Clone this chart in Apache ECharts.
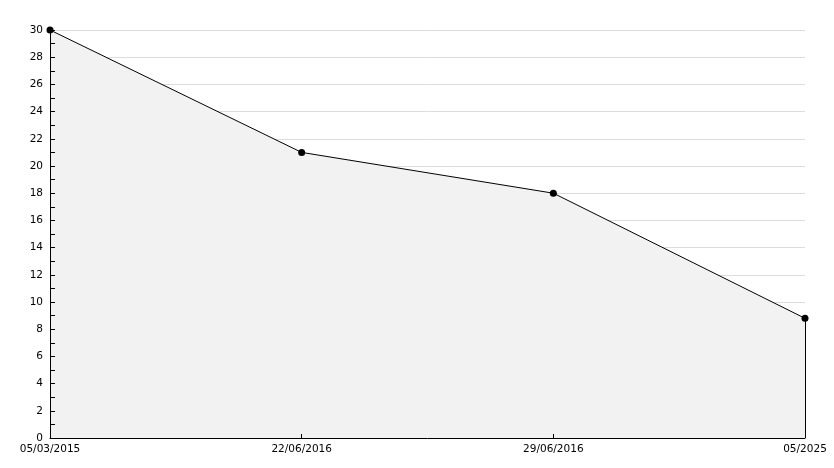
<!DOCTYPE html>
<html><head><meta charset="utf-8">
<script src="https://cdn.jsdelivr.net/npm/echarts@6/dist/echarts.min.js"></script>
<style>html,body{margin:0;padding:0;background:#fff}#c{width:834px;height:468px}</style>
</head><body><div id="c"></div>
<script>
const categories = ['05/03/2015', '22/06/2016', '29/06/2016', '05/2025'];
const values = [30, 21, 18, 8.8];
const yMin = 0, yMax = 30, yStep = 2;

const chart = echarts.init(document.getElementById('c'), null, {renderer: 'canvas'});
const lastCat = categories[categories.length - 1];
const lastVal = values[values.length - 1];
chart.setOption({
  animation: false,
  grid: {left: 50, right: 29, top: 30, bottom: 30, containLabel: false},
  xAxis: {
    type: 'category', data: categories, boundaryGap: false, z: 5,
    axisLine: {lineStyle: {color: '#000', width: 1}},
    axisTick: {inside: true, length: 4, lineStyle: {color: '#000'}},
    axisLabel: {color: '#000', fontFamily: 'DejaVu Sans', fontSize: 10.5, margin: 6, interval: 0},
    splitLine: {show: false}
  },
  yAxis: [{
    type: 'value', min: yMin, max: yMax, interval: yStep, z: 0,
    position: 'left', offset: 0,
    axisLine: {show: false}, axisTick: {show: false}, axisLabel: {show: false},
    splitLine: {show: true, lineStyle: {color: '#dddddd', width: 1}}
  }, {
    type: 'value', min: yMin, max: yMax, interval: yStep, z: 5,
    position: 'left', offset: 0,
    axisLine: {show: true, onZero: false, lineStyle: {color: '#000', width: 1}},
    axisTick: {show: true, inside: true, length: 5, lineStyle: {color: '#000'}},
    minorTick: {show: true, splitNumber: 2, length: 5, lineStyle: {color: '#000'}},
    axisLabel: {color: '#000', fontFamily: 'DejaVu Sans', fontSize: 10.5, margin: 7},
    splitLine: {show: false}
  }],
  series: [{
    type: 'line', data: values, z: 3, yAxisIndex: 0,
    symbol: 'circle', symbolSize: 7,
    itemStyle: {color: '#000'},
    lineStyle: {color: '#000', width: 1},
    areaStyle: {color: '#f2f2f2', opacity: 1},
    markLine: {
      silent: true, symbol: 'none', label: {show: false},
      lineStyle: {color: '#000', width: 1, type: 'solid'},
      data: [[{coord: [lastCat, yMin]}, {coord: [lastCat, lastVal]}]]
    }
  }]
});
</script></body></html>
